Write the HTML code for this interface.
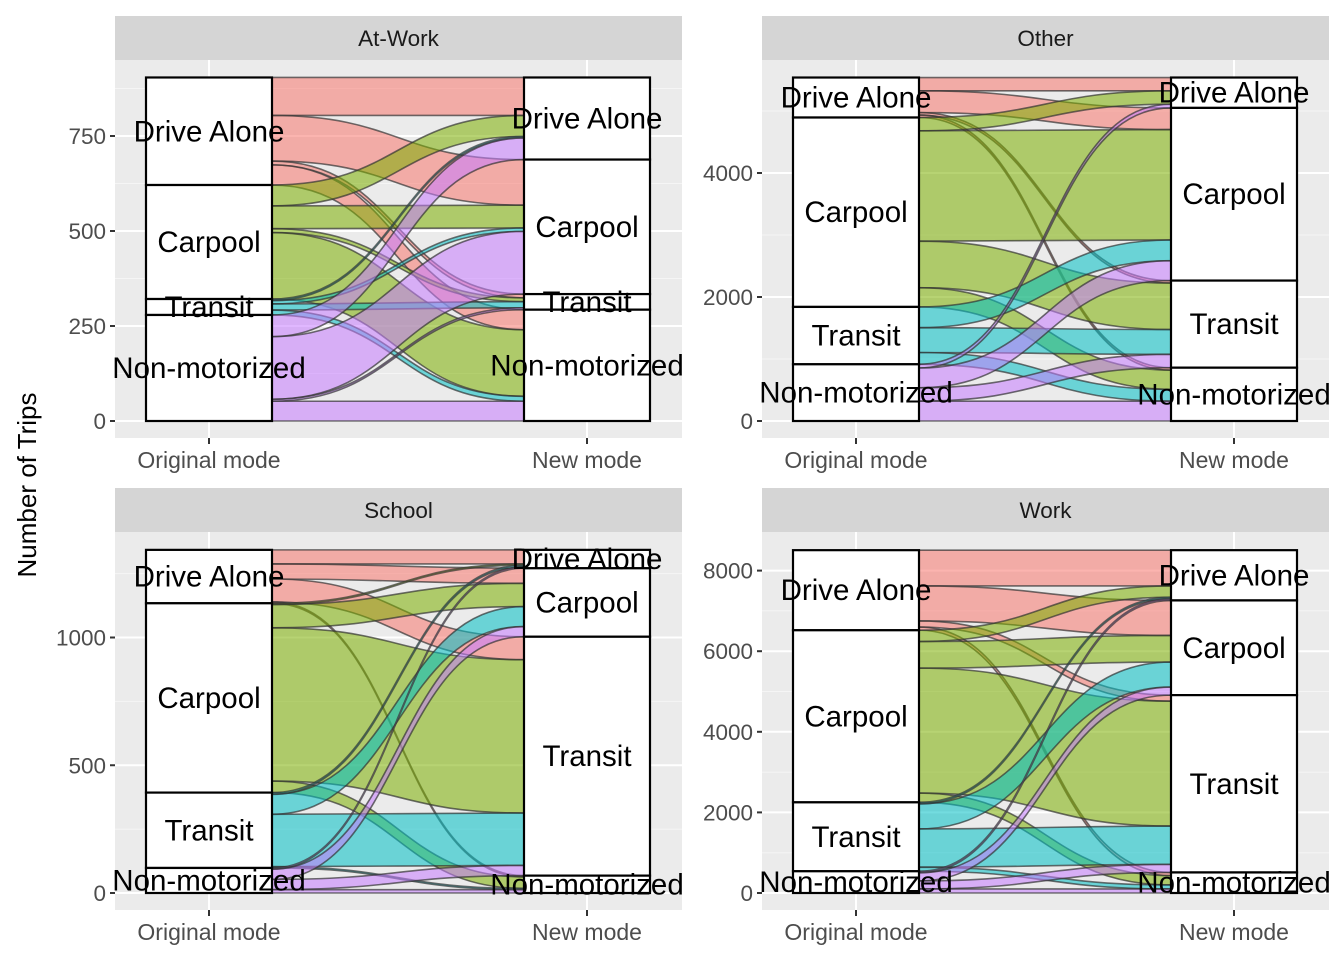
<!DOCTYPE html>
<html><head><meta charset="utf-8">
<style>
html,body{margin:0;padding:0;background:#fff;}
svg{display:block;font-family:"Liberation Sans",Arial,sans-serif;}
</style></head>
<body>
<svg id="chart" width="1344" height="960" viewBox="0 0 1344 960" xmlns="http://www.w3.org/2000/svg">
<rect x="0" y="0" width="1344" height="960" fill="#fff"/>
<text x="36" y="485" transform="rotate(-90 36 485)" text-anchor="middle" font-size="26" fill="#000">Number of Trips</text>
</svg>
<script>
// modes in stacking order (top to bottom)
const modes = ["Drive Alone", "Carpool", "Transit", "Non-motorized"];
const modeColors = ["#F8766D", "#7CAE00", "#00BFC4", "#C77CFF"];
const axisLabels = ["Original mode", "New mode"];
const panelTitles = ["At-Work", "Other", "School", "Work"];
// flow matrices: rows = original mode, cols = new mode
const atWorkFlows = [
  [100, 120, 10, 53],
  [55, 60, 10, 175],
  [4, 9, 16, 13],
  [57, 165, 5, 52]
];
const otherFlows = [
  [215, 350, 40, 40],
  [215, 1780, 750, 310],
  [0, 335, 400, 190],
  [60, 320, 215, 320]
];
const schoolFlows = [
  [55, 59, 90, 5],
  [5, 91, 600, 45],
  [7, 78, 205, 5],
  [5, 40, 40, 13]
];
const workFlows = [
  [887, 870, 150, 80],
  [280, 660, 3100, 230],
  [40, 620, 950, 100],
  [40, 200, 200, 100]
];
const atWorkTicks = [0, 250, 500, 750];
const otherTicks = [0, 2000, 4000];
const schoolTicks = [0, 500, 1000];
const workTicks = [0, 2000, 4000, 6000, 8000];
const atWorkMinor = [125, 375, 625, 875];
const otherMinor = [1000, 3000, 5000];
const schoolMinor = [250, 750, 1250];
const workMinor = [1000, 3000, 5000, 7000];

const NS = "http://www.w3.org/2000/svg";
const svg = document.getElementById("chart");
function mk(tag, attrs, parent) {
  const e = document.createElementNS(NS, tag);
  for (const k in attrs) e.setAttribute(k, attrs[k]);
  (parent || svg).appendChild(e);
  return e;
}

const panels = [
  {title: panelTitles[0], flows: atWorkFlows, ticks: atWorkTicks, minor: atWorkMinor, x0: 115, top: 60, zeroY: 421, scale: 0.38, name: "at-work"},
  {title: panelTitles[1], flows: otherFlows, ticks: otherTicks, minor: otherMinor, x0: 762, top: 60, zeroY: 421, scale: 0.062, name: "other"},
  {title: panelTitles[2], flows: schoolFlows, ticks: schoolTicks, minor: schoolMinor, x0: 115, top: 532, zeroY: 893, scale: 0.2555, name: "school"},
  {title: panelTitles[3], flows: workFlows, ticks: workTicks, minor: workMinor, x0: 762, top: 532, zeroY: 893, scale: 0.0403, name: "work"}
];
const PW = 567, PH = 378;

panels.forEach(p => {
  const g = mk("g", {});
  
  
  const yS = v => p.zeroY - v * p.scale;
  const bottom = p.top + PH;
  const strip = mk("rect", {x: p.x0, y: p.top - 44, width: PW, height: 44, fill: "#D5D5D5"}, g);
  
  
  const st = mk("text", {x: p.x0 + PW / 2, y: p.top - 14, "text-anchor": "middle", "font-size": 22.5, fill: "#1A1A1A"}, g);
  st.textContent = p.title;
  
  
  const bg = mk("rect", {x: p.x0, y: p.top, width: PW, height: PH, fill: "#EBEBEB"}, g);
  
  
  p.minor.forEach(v => {
    const y = yS(v);
    if (y < p.top || y > bottom) return;
    const l = mk("line", {x1: p.x0, x2: p.x0 + PW, y1: y, y2: y, stroke: "#F5F5F5", "stroke-width": 1}, g);
    
    
  });
  p.ticks.forEach(v => {
    const y = yS(v);
    const l = mk("line", {x1: p.x0, x2: p.x0 + PW, y1: y, y2: y, stroke: "#fff", "stroke-width": 2}, g);
    
    
    const tk = mk("line", {x1: p.x0 - 5, x2: p.x0, y1: y, y2: y, stroke: "#333", "stroke-width": 2}, g);
    
    
    const t = mk("text", {x: p.x0 - 9, y: y + 8, "text-anchor": "end", "font-size": 22.5, fill: "#4D4D4D"}, g);
    t.textContent = v;
    
    
  });
  const cx = [p.x0 + 94, p.x0 + 472];
  cx.forEach((x, i) => {
    const l = mk("line", {x1: x, x2: x, y1: p.top, y2: bottom, stroke: "#fff", "stroke-width": 2}, g);
    
    
    const tk = mk("line", {x1: x, x2: x, y1: bottom, y2: bottom + 6, stroke: "#333", "stroke-width": 2}, g);
    
    
    const t = mk("text", {x: x, y: bottom + 30, "text-anchor": "middle", "font-size": 23, fill: "#4D4D4D"}, g);
    t.textContent = axisLabels[i];
    
    
  });
  const F = p.flows;
  const leftTot = modes.map((m, i) => F[i].reduce((a, b) => a + b, 0));
  const rightTot = modes.map((m, j) => F.reduce((a, r) => a + r[j], 0));
  function stackTops(tots) {
    const tops = []; let acc = tots.reduce((a, b) => a + b, 0);
    tots.forEach(t => { tops.push(acc); acc -= t; });
    return tops;
  }
  const lTop = stackTops(leftTot), rTop = stackTops(rightTot);
  const lCur = lTop.slice(), rCur = rTop.slice();
  const flowPos = [];
  for (let i = 0; i < 4; i++) for (let j = 0; j < 4; j++) {
    const v = F[i][j];
    const l1 = lCur[i]; lCur[i] -= v;
    flowPos.push({i, j, v, l1, l2: lCur[i]});
  }
  for (let j = 0; j < 4; j++) for (let i = 0; i < 4; i++) {
    const f = flowPos.find(q => q.i === i && q.j === j);
    f.r1 = rCur[j]; rCur[j] -= f.v; f.r2 = rCur[j];
  }
  const xL = p.x0 + 157, xR = p.x0 + 409, mid = (xL + xR) / 2;
  flowPos.forEach(f => {
    if (f.v <= 0) return;
    const a = yS(f.l1), b = yS(f.l2), c = yS(f.r1), d = yS(f.r2);
    const dpath = `M${xL},${a} C${mid},${a} ${mid},${c} ${xR},${c} L${xR},${d} C${mid},${d} ${mid},${b} ${xL},${b} Z`;
    const path = mk("path", {d: dpath, fill: modeColors[f.i], "fill-opacity": 0.55, stroke: "#333", "stroke-opacity": 0.7, "stroke-width": 1.6}, g);
    
    
  });
  [[lTop, leftTot, p.x0 + 31], [rTop, rightTot, p.x0 + 409]].forEach(([tops, tots, x], side) => {
    tops.forEach((tp, k) => {
      const y1 = yS(tp), y2 = yS(tp - tots[k]);
      const r = mk("rect", {x: x, y: y1, width: 126, height: y2 - y1, fill: "#fff", stroke: "#000", "stroke-width": 2.2}, g);
      
      
    });
    tops.forEach((tp, k) => {
      const y1 = yS(tp), y2 = yS(tp - tots[k]);
      const t = mk("text", {x: x + 63, y: (y1 + y2) / 2 + 10, "text-anchor": "middle", "font-size": 29.5, fill: "#000"}, g);
      t.textContent = modes[k];
      
      
    });
  });
});
</script>
</body></html>
